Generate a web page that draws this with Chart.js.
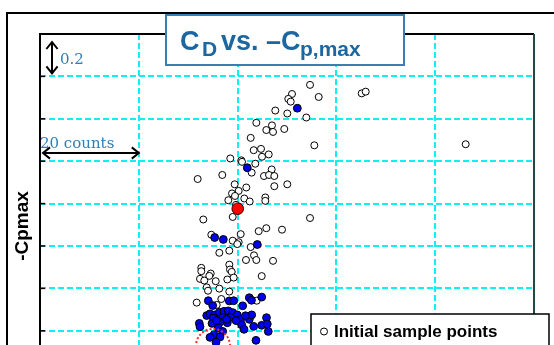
<!DOCTYPE html>
<html>
<head>
<meta charset="utf-8">
<script src="https://cdn.jsdelivr.net/npm/chart.js@4/dist/chart.umd.min.js"></script>
<style>
  html, body { margin: 0; padding: 0; overflow: hidden; background: #fff; }
</style>
</head>
<body>
<canvas id="scatterChart" width="554" height="380"></canvas>
<script>
// x = drag in counts, y = -Cpmax
const xMin = 0, xMax = 100, xStep = 20
const yMin = 0.2, yMax = 1.8, yStep = 0.2

const initialX = [54.66, 65.12, 65.93, 51.01, 50.26, 50.75, 56.42, 47.63, 50.06, 53.91,
  43.79, 46.96, 45.81, 47.17, 49.45, 42.65, 55.53, 43.26, 44.74, 46.30,
  44.94, 38.52, 40.75, 40.89, 43.58, 42.85, 46.90, 31.92, 36.90, 45.34,
  46.36, 47.43, 39.41, 41.76, 47.43, 50.06, 40.22, 38.87, 39.47, 38.12,
  41.36, 45.61, 45.61, 42.45, 39.68, 33.06, 39.01, 54.66, 86.17,
  34.68, 40.63, 44.27, 45.81, 48.99, 39.01, 40.22, 39.94, 42.65, 36.30,
  38.32, 43.32, 43.79, 41.70, 47.17, 32.65, 32.65, 34.56, 34.27, 38.32,
  38.46, 38.81, 32.39, 33.26, 35.57, 37.92, 39.21, 44.88, 33.75, 34.01,
  36.30, 38.32, 31.72, 36.70, 43.87, 35.77]
const initialY = [1.560, 1.520, 1.528, 1.517, 1.494, 1.481, 1.503, 1.439, 1.425, 1.406,
  1.381, 1.369, 1.347, 1.338, 1.352, 1.310, 1.275, 1.252, 1.258, 1.232,
  1.221, 1.213, 1.204, 1.197, 1.188, 1.146, 1.161, 1.116, 1.135, 1.130,
  1.135, 1.130, 1.091, 1.076, 1.082, 1.091, 1.060, 1.048, 1.036, 1.016,
  1.024, 1.029, 1.013, 1.010, 0.994, 0.925, 0.937, 0.932, 1.280,
  0.853, 0.856, 0.870, 0.884, 0.877, 0.825, 0.818, 0.809, 0.795, 0.768,
  0.778, 0.756, 0.734, 0.734, 0.730, 0.697, 0.681, 0.670, 0.659, 0.712,
  0.689, 0.678, 0.645, 0.637, 0.634, 0.642, 0.651, 0.658, 0.605, 0.589,
  0.599, 0.585, 0.533, 0.550, 0.542, 0.522]

const infillX = [52.09, 41.96, 35.36, 37.11, 43.99,
  34.07, 34.96, 38.32, 39.21, 41.03, 42.37, 42.81, 44.88,
  33.75, 34.41, 35.36, 36.30, 37.25, 38.12, 39.01, 39.94, 35.08, 36.98,
  38.60, 40.63, 42.37, 42.85, 45.85, 32.25, 34.82, 36.44, 37.92, 40.83,
  43.26, 44.88, 46.01, 32.39, 36.09, 41.30, 36.98, 46.21, 35.22, 34.41,
  36.44, 43.72, 35.63, 37.79, 39.68, 35.73, 41.60]
const infillY = [1.450, 1.169, 0.840, 0.831, 0.807,
  0.542, 0.519, 0.541, 0.542, 0.518, 0.556, 0.544, 0.559,
  0.472, 0.480, 0.475, 0.488, 0.492, 0.494, 0.486, 0.475, 0.460, 0.463,
  0.463, 0.454, 0.454, 0.475, 0.462, 0.435, 0.435, 0.441, 0.438, 0.428,
  0.421, 0.426, 0.432, 0.419, 0.413, 0.407, 0.397, 0.397, 0.381, 0.369,
  0.371, 0.355, 0.346, 0.454, 0.448, 0.448, 0.471]

const bestX = [40.03]
const bestY = [0.976]

// dotted circle marking the optimum region
const optimumX = 35.02
const optimumY = 0.329

const legendLabel = 'Initial sample points'
const yAxisTitle = '-Cpmax'

const gridCyan = '#10f0f0'
const noteBlue = '#2f7db5'

function toPoints(xs, ys) {
  return xs.map((x, i) => ({ x: x, y: ys[i] }))
}

function arrowHead(ctx, x, y, dx, dy, size) {
  // chevron pointing along (dx, dy)
  const px = -dy, py = dx
  ctx.beginPath()
  ctx.moveTo(x - dx * size + px * size * 0.8, y - dy * size + py * size * 0.8)
  ctx.lineTo(x, y)
  ctx.lineTo(x - dx * size - px * size * 0.8, y - dy * size - py * size * 0.8)
  ctx.stroke()
}

const decorations = {
  id: 'decorations',
  beforeDraw(chart) {
    const ctx = chart.ctx
    ctx.save()
    ctx.fillStyle = '#fff'
    ctx.fillRect(0, 0, chart.width, chart.height)
    ctx.restore()
  },
  afterDatasetsDraw(chart) {
    const ctx = chart.ctx
    const xs = chart.scales.x, ys = chart.scales.y
    const a = chart.chartArea
    const L = Math.round(a.left), T = Math.round(a.top), R = Math.round(a.right)
    ctx.save()

    // red dotted circle
    ctx.strokeStyle = '#ff2a2a'
    ctx.lineWidth = 2
    ctx.setLineDash([2, 2])
    ctx.beginPath()
    ctx.arc(xs.getPixelForValue(optimumX), ys.getPixelForValue(optimumY), 17, 0, Math.PI * 2)
    ctx.stroke()
    ctx.setLineDash([])

    // outer frame
    ctx.strokeStyle = '#000'
    ctx.lineWidth = 2
    ctx.beginPath()
    ctx.moveTo(7, chart.height)
    ctx.lineTo(7, 13)
    ctx.lineTo(chart.width, 13)
    ctx.stroke()

    // plot frame
    ctx.lineWidth = 2
    ctx.strokeStyle = '#000'
    ctx.beginPath()
    ctx.moveTo(L, a.bottom)
    ctx.lineTo(L, T)
    ctx.lineTo(R, T)
    ctx.stroke()
    ctx.strokeStyle = '#244848'
    ctx.beginPath()
    ctx.moveTo(R, T)
    ctx.lineTo(R, a.bottom)
    ctx.stroke()

    // inward tick marks on the y axis
    ctx.strokeStyle = '#000'
    ctx.lineWidth = 1.5
    ys.ticks.forEach(t => {
      const y = ys.getPixelForValue(t.value)
      ctx.beginPath()
      ctx.moveTo(L, y)
      ctx.lineTo(L + 5, y)
      ctx.stroke()
    })

    // title box
    ctx.fillStyle = '#fff'
    ctx.fillRect(166, 15, 238, 50)
    ctx.strokeStyle = '#3a7fb2'
    ctx.lineWidth = 2
    ctx.strokeRect(166, 15, 238, 50)
    ctx.fillStyle = '#1d67a0'
    ctx.textBaseline = 'alphabetic'
    ctx.font = 'bold 27px "Liberation Sans", Arial, sans-serif'
    ctx.fillText('C', 180, 50)
    ctx.fillText('vs.', 221, 50)
    ctx.fillText('\u2013C', 266, 50)
    ctx.font = 'bold 21px "Liberation Sans", Arial, sans-serif'
    ctx.fillText('D', 202, 56)
    ctx.fillText('p,max', 300, 56)

    // scale notes
    ctx.strokeStyle = '#000'
    ctx.lineWidth = 2
    const vx = 52
    const vTop = ys.getPixelForValue(yMax) + 8
    const vBot = ys.getPixelForValue(yMax - yStep) - 3
    ctx.beginPath()
    ctx.moveTo(vx, vTop)
    ctx.lineTo(vx, vBot)
    ctx.stroke()
    arrowHead(ctx, vx, vTop, 0, -1, 7)
    arrowHead(ctx, vx, vBot, 0, 1, 7)

    const hy = 153
    const hL = xs.getPixelForValue(xMin) + 3
    const hR = xs.getPixelForValue(xMin + xStep)
    ctx.beginPath()
    ctx.moveTo(hL, hy)
    ctx.lineTo(hR, hy)
    ctx.stroke()
    arrowHead(ctx, hL, hy, -1, 0, 7)
    arrowHead(ctx, hR, hy, 1, 0, 7)

    ctx.fillStyle = noteBlue
    ctx.font = '15px "DejaVu Serif", serif'
    ctx.fillText('0.2', 60, 64)
    ctx.fillText('20 counts', 40, 148)

    // y axis title
    ctx.save()
    ctx.translate(23, 226)
    ctx.rotate(-Math.PI / 2)
    ctx.fillStyle = '#000'
    ctx.font = 'bold 19px "Liberation Sans", Arial, sans-serif'
    ctx.textAlign = 'center'
    ctx.textBaseline = 'middle'
    ctx.fillText(yAxisTitle, 0, 0)
    ctx.restore()

    // legend box
    ctx.fillStyle = '#fff'
    ctx.fillRect(311, 314, 238, 80)
    ctx.strokeStyle = '#000'
    ctx.lineWidth = 1.5
    ctx.strokeRect(311, 314, 238, 80)
    ctx.lineWidth = 1
    ctx.beginPath()
    ctx.arc(324, 331.5, 3.5, 0, Math.PI * 2)
    ctx.stroke()
    ctx.fillStyle = '#000'
    ctx.font = 'bold 17px "Liberation Sans", Arial, sans-serif'
    ctx.fillText(legendLabel, 334, 337)

    ctx.restore()
  }
}

const ctx = document.getElementById('scatterChart').getContext('2d')

const myChart = new Chart(ctx, {
  type: 'scatter',
  data: {
    datasets: [
      {
        label: 'Best point',
        data: toPoints(bestX, bestY),
        backgroundColor: '#ff0000',
        borderColor: '#300',
        borderWidth: 1,
        pointRadius: 5.8,
        order: 0
      },
      {
        label: 'Infill points',
        data: toPoints(infillX, infillY),
        backgroundColor: '#0000f0',
        borderColor: '#000',
        borderWidth: 1,
        pointRadius: 3.9,
        order: 1
      },
      {
        label: legendLabel,
        data: toPoints(initialX, initialY),
        backgroundColor: '#fff',
        borderColor: '#000',
        borderWidth: 1,
        pointRadius: 3.5,
        order: 2
      }
    ]
  },
  options: {
    responsive: false,
    animation: false,
    devicePixelRatio: 1,
    layout: { padding: { left: 40, top: 34, right: 20, bottom: 3 } },
    plugins: { legend: { display: false }, tooltip: { enabled: false } },
    scales: {
      x: {
        type: 'linear', min: xMin, max: xMax,
        ticks: { stepSize: xStep, display: false },
        grid: { color: gridCyan, lineWidth: 2, drawTicks: false },
        border: { display: false, dash: [6, 3] },
        afterFit: s => { s.height = 0 }
      },
      y: {
        min: yMin, max: yMax,
        ticks: { stepSize: yStep, display: false },
        grid: { color: gridCyan, lineWidth: 2, drawTicks: false },
        border: { display: false, dash: [6, 3] },
        afterFit: s => { s.width = 0 }
      }
    }
  },
  plugins: [decorations]
})
</script>
</body>
</html>
